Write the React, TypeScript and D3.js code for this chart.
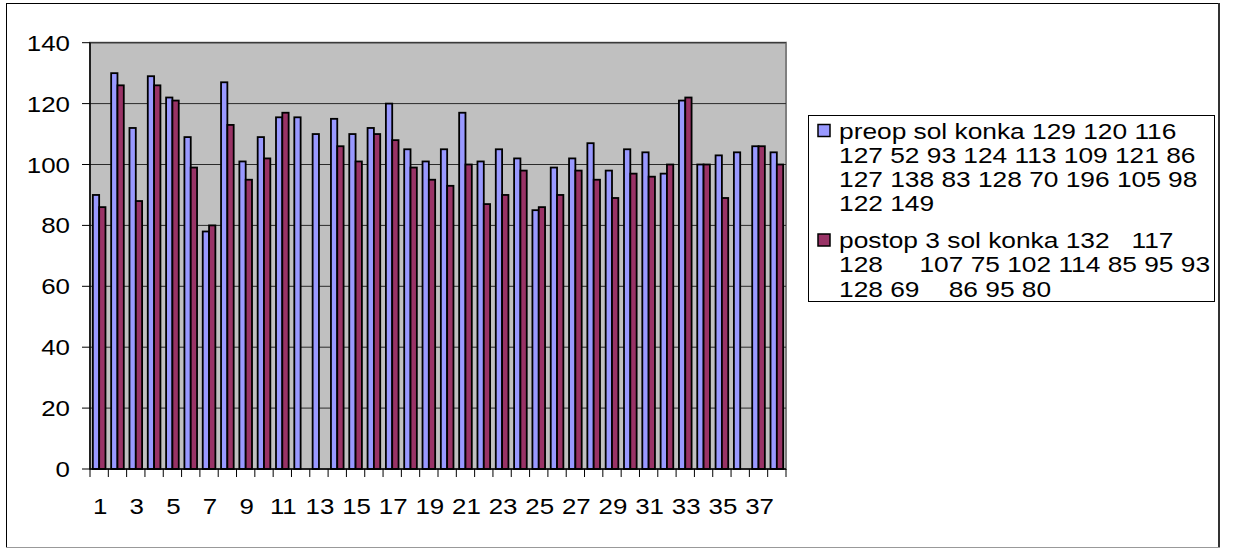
import React, { useRef, useEffect } from "react";
import { select, scaleBand, scaleLinear } from "d3";

const categories = ["1", "2", "3", "4", "5", "6", "7", "8", "9", "10", "11", "12", "13", "14", "15", "16", "17", "18", "19",
  "20", "21", "22", "23", "24", "25", "26", "27", "28", "29", "30", "31", "32", "33", "34", "35", "36", "37", "38"];

const preop = [90, 130, 112, 129, 122, 109, 78, 127, 101, 109, 115.5, 115.5, 110, 115, 110, 112, 120, 105, 101,
  105, 117, 101, 105, 102, 85, 99, 102, 107, 98, 105, 104, 97, 121, 100, 103, 104, 106, 104];

const postop = [86, 126, 88, 126, 121, 99, 80, 113, 95, 102, 117, null, null, 106, 101, 110, 108, 99, 95,
  93, 100, 87, 90, 98, 86, 90, 98, 95, 89, 97, 96, 100, 122, 100, 89, null, 106, 100];

const seriesKeys = ["preop", "postop"];
const yTicks = [0, 20, 40, 60, 80, 100, 120, 140];

const legendPreop = [
  "preop sol konka 129 120 116",
  "127 52 93 124 113 109 121 86",
  "127 138 83 128 70 196 105 98",
  "122 149",
];
const legendPostop = [
  "postop 3 sol konka 132   117",
  "128     107 75 102 114 85 95 93",
  "128 69    86 95 80",
];

const colors = { preop: "#9999FF", postop: "#993366" };

function App() {
  const svgRef = useRef();

  useEffect(() => {
    const W = 1233, H = 549;
    const plot = { left: 90, right: 786, top: 42.7, bottom: 469 };
    const font = "'Liberation Sans', Arial, sans-serif";
    const fs = 22.5;
    const sx = 1.15;
    const sxLegend = 1.17;

    const svg = select(svgRef.current);
    svg.selectAll("*").remove();
    svg.attr("width", W).attr("height", H);

    // outer frame
    svg.append("rect").attr("x", 0).attr("y", 0).attr("width", W).attr("height", H).attr("fill", "#fff");
    svg.append("rect")
      .attr("x", 6.5).attr("y", 3.5).attr("width", 1212).attr("height", 544)
      .attr("fill", "#fff").attr("stroke", "#000").attr("stroke-width", 1);
    svg.append("line").attr("x1", 1219).attr("x2", 1219).attr("y1", 3).attr("y2", 548)
      .attr("stroke", "#333").attr("stroke-width", 2);
    svg.append("line").attr("x1", 6).attr("x2", 1220).attr("y1", 547.5).attr("y2", 547.5)
      .attr("stroke", "#999").attr("stroke-width", 1);

    const x0 = scaleBand()
      .domain(categories)
      .range([plot.left, plot.right])
      .paddingInner(0.31)
      .paddingOuter(0.155);
    const x1 = scaleBand().domain(seriesKeys).range([0, x0.bandwidth()]);
    const y = scaleLinear().domain([0, 140]).range([plot.bottom, plot.top]);

    // plot area
    svg.append("rect")
      .attr("x", plot.left).attr("y", plot.top)
      .attr("width", plot.right - plot.left).attr("height", plot.bottom - plot.top)
      .attr("fill", "#C0C0C0").attr("stroke", "#808080").attr("stroke-width", 2);

    svg.selectAll(".grid")
      .data(yTicks.filter((t) => t > 0))
      .join("line")
      .attr("class", "grid")
      .attr("x1", plot.left).attr("x2", plot.right)
      .attr("y1", (d) => y(d)).attr("y2", (d) => y(d))
      .attr("stroke", "#2a2a2a").attr("stroke-width", 1);

    const rows = categories.map((c, i) => ({ c, preop: preop[i], postop: postop[i] }));

    const groups = svg.selectAll(".cat")
      .data(rows)
      .join("g")
      .attr("class", "cat")
      .attr("transform", (d) => `translate(${x0(d.c)},0)`);

    groups.selectAll("rect")
      .data((d) => seriesKeys.map((k) => ({ key: k, value: d[k] })).filter((d) => d.value != null))
      .join("rect")
      .attr("x", (d) => x1(d.key))
      .attr("y", (d) => y(d.value))
      .attr("width", x1.bandwidth())
      .attr("height", (d) => plot.bottom - y(d.value))
      .attr("fill", (d) => colors[d.key])
      .attr("stroke", "#000")
      .attr("stroke-width", 1.8);

    // axes
    svg.append("line").attr("x1", plot.left).attr("x2", plot.left).attr("y1", plot.top).attr("y2", plot.bottom)
      .attr("stroke", "#000").attr("stroke-width", 1.5);
    svg.append("line").attr("x1", plot.left).attr("x2", plot.right).attr("y1", plot.bottom).attr("y2", plot.bottom)
      .attr("stroke", "#000").attr("stroke-width", 1.5);

    svg.selectAll(".ytick")
      .data(yTicks)
      .join("line")
      .attr("class", "ytick")
      .attr("x1", plot.left - 8).attr("x2", plot.left)
      .attr("y1", (d) => y(d)).attr("y2", (d) => y(d))
      .attr("stroke", "#000").attr("stroke-width", 1);

    svg.selectAll(".ylab")
      .data(yTicks)
      .join("text")
      .attr("class", "ylab")
      .attr("transform", (d) => `translate(70,${y(d) + 8}) scale(${sx},1)`)
      .attr("text-anchor", "end")
      .attr("font-family", font).attr("font-size", fs).attr("fill", "#000")
      .text((d) => d);

    const bounds = categories.map((c) => x0(c) - (x0.step() - x0.bandwidth()) / 2).concat([plot.right]);
    svg.selectAll(".xtick")
      .data(bounds)
      .join("line")
      .attr("class", "xtick")
      .attr("x1", (d) => d).attr("x2", (d) => d)
      .attr("y1", plot.bottom).attr("y2", plot.bottom + 8)
      .attr("stroke", "#000").attr("stroke-width", 1);

    svg.selectAll(".xlab")
      .data(categories.filter((c, i) => i % 2 === 0))
      .join("text")
      .attr("class", "xlab")
      .attr("transform", (d) => `translate(${x0(d) + x0.bandwidth() / 2 + 1},514) scale(${sx},1)`)
      .attr("text-anchor", "middle")
      .attr("font-family", font).attr("font-size", fs).attr("fill", "#000")
      .text((d) => d);

    // legend
    const lg = svg.append("g");
    lg.append("rect")
      .attr("x", 808.5).attr("y", 115.5).attr("width", 406).attr("height", 186)
      .attr("fill", "#fff").attr("stroke", "#000").attr("stroke-width", 1);

    const lineGap = 24.3;
    const blocks = [
      { key: "preop", lines: legendPreop, top: 138.5 },
      { key: "postop", lines: legendPostop, top: 248 },
    ];
    blocks.forEach((b) => {
      lg.append("rect")
        .attr("x", 818).attr("y", b.top - 14).attr("width", 12).attr("height", 12)
        .attr("fill", colors[b.key]).attr("stroke", "#000").attr("stroke-width", 1.5);
      b.lines.forEach((t, i) => {
        lg.append("text")
          .attr("transform", `translate(839,${b.top + i * lineGap}) scale(${sxLegend},1)`)
          .attr("font-family", font).attr("font-size", fs).attr("fill", "#000")
          .style("white-space", "pre")
          .attr("xml:space", "preserve")
          .text(t);
      });
    });
  }, []);

  return (
    <div style={{ position: "absolute", left: 0, top: 0 }}>
      <svg ref={svgRef}></svg>
    </div>
  );
}

export default App;
